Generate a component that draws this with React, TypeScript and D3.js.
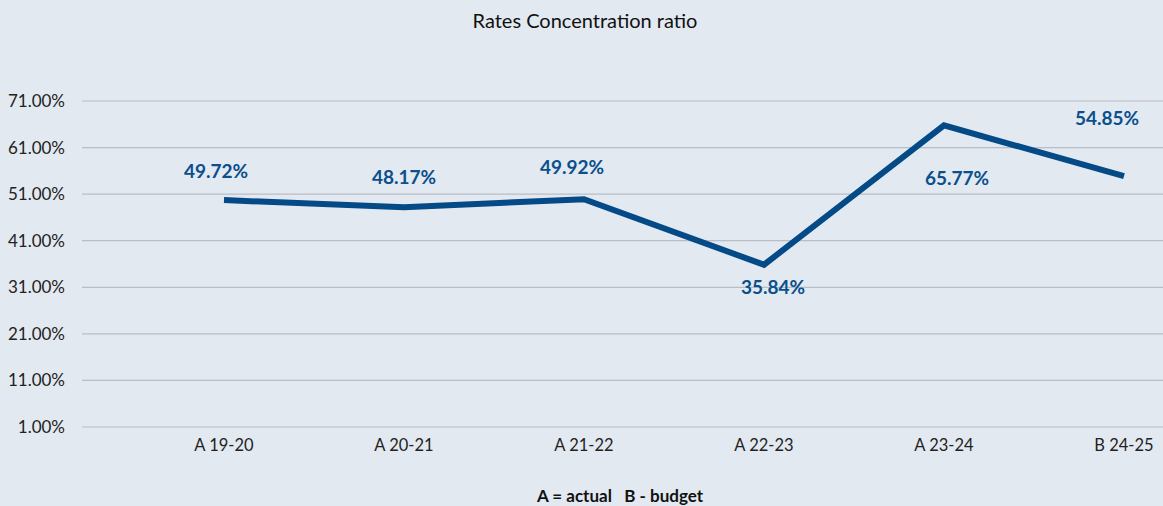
import { useEffect, useRef } from 'react';
import * as d3 from 'd3';

const categories = ['A 19-20', 'A 20-21', 'A 21-22', 'A 22-23', 'A 23-24', 'B 24-25'];
const ratios = [49.72, 48.17, 49.92, 35.84, 65.77, 54.85];
const yTicks = [1, 11, 21, 31, 41, 51, 61, 71];

const W = 1163;
const H = 506;
const labelOffsets = [
  { dx: -8, dy: -29 },
  { dx: 0, dy: -30 },
  { dx: -12, dy: -32 },
  { dx: 9, dy: 23 },
  { dx: 13, dy: 53 },
  { dx: -17, dy: -58 },
];

export default function App() {
  const ref = useRef<SVGSVGElement>(null);

  useEffect(() => {
    const svg = d3.select(ref.current);
    svg.selectAll('*').remove();

    const x = d3.scalePoint<string>().domain(categories).range([224, 1124]);
    const y = d3.scaleLinear().domain([1, 71]).range([427, 101]);

    svg.append('rect').attr('width', W).attr('height', H).attr('fill', '#e2e9f1');

    svg
      .append('text')
      .attr('x', 585)
      .attr('y', 28)
      .attr('text-anchor', 'middle')
      .style('font', '20px Lato, "Open Sans", sans-serif')
      .attr('fill', '#111')
      .text('Rates Concentration ratio');

    const grid = svg.append('g');
    grid
      .selectAll('line')
      .data(yTicks)
      .enter()
      .append('line')
      .attr('x1', 82)
      .attr('x2', W)
      .attr('y1', d => y(d))
      .attr('y2', d => y(d))
      .attr('stroke', '#b9bdc6')
      .attr('stroke-width', 1.2);

    grid
      .selectAll('text')
      .data(yTicks)
      .enter()
      .append('text')
      .attr('x', 65)
      .attr('y', d => y(d))
      .attr('dy', '0.35em')
      .attr('text-anchor', 'end')
      .style('font', '17px Lato, "Open Sans", sans-serif')
      .attr('fill', '#222')
      .text(d => d3.format('.2f')(d) + '%');

    svg
      .append('g')
      .selectAll('text')
      .data(categories)
      .enter()
      .append('text')
      .attr('x', d => x(d)!)
      .attr('y', 451)
      .attr('text-anchor', 'middle')
      .style('font', '16.5px Lato, "Open Sans", sans-serif')
      .attr('fill', '#222')
      .text(d => d);

    const line = d3
      .line<number>()
      .x((d, i) => x(categories[i])!)
      .y(d => y(d));

    svg
      .append('path')
      .datum(ratios)
      .attr('d', line)
      .attr('fill', 'none')
      .attr('stroke', '#034a87')
      .attr('stroke-width', 6)
      .attr('stroke-linejoin', 'miter');

    svg
      .append('g')
      .selectAll('text')
      .data(ratios)
      .enter()
      .append('text')
      .attr('x', (d, i) => x(categories[i])! + labelOffsets[i].dx)
      .attr('y', (d, i) => y(d) + labelOffsets[i].dy)
      .attr('dy', '0.35em')
      .attr('text-anchor', 'middle')
      .style('font', 'bold 19px Lato, "Open Sans", sans-serif')
      .attr('fill', '#0b4f8c')
      .text(d => d3.format('.2f')(d) + '%');

    svg
      .append('text')
      .attr('x', 620)
      .attr('y', 502)
      .attr('text-anchor', 'middle')
      .attr('xml:space', 'preserve')
      .style('font', 'bold 17px Lato, "Open Sans", sans-serif')
      .style('white-space', 'pre')
      .attr('fill', '#111')
      .text('A = actual   B - budget');
  }, []);

  return (
    <svg
      ref={ref}
      width={W}
      height={H}
      style={{ position: 'absolute', left: 0, top: 0, display: 'block' }}
    />
  );
}
